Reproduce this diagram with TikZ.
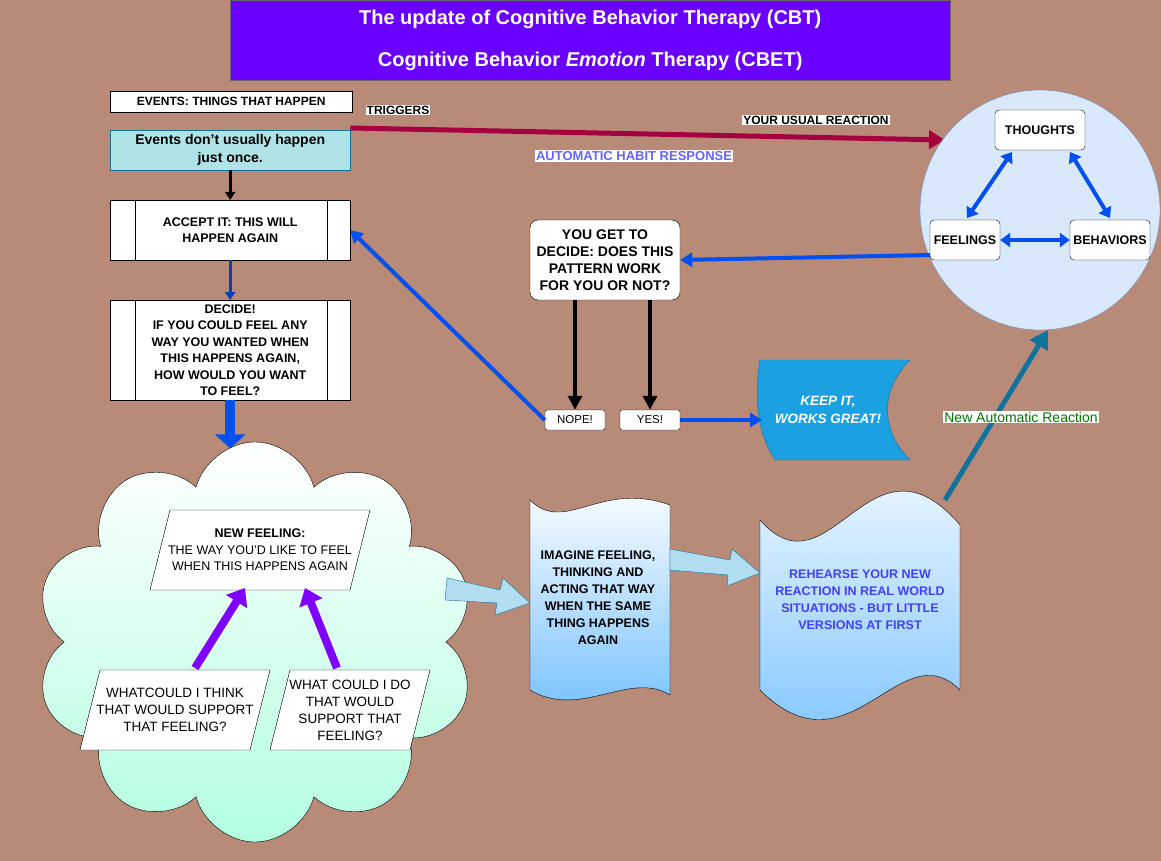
\documentclass[tikz,border=0pt]{standalone}
\usepackage{fontspec}
\setmainfont{Liberation Sans}
\usetikzlibrary{arrows.meta,shapes.geometric,shapes.symbols}
\definecolor{bgbrown}{HTML}{B88A78}
\definecolor{titleviolet}{HTML}{6A00FF}
\definecolor{trigred}{HTML}{A50040}
\definecolor{arrblue}{HTML}{0050EF}
\definecolor{circfill}{HTML}{DAE8FC}
\definecolor{circline}{HTML}{6C8EBF}
\definecolor{purp}{HTML}{7F00FF}
\definecolor{teal}{HTML}{10739E}
\definecolor{paleblue}{HTML}{B1DDF0}
\definecolor{keepblue}{HTML}{1BA1E2}
\definecolor{cyanbox}{HTML}{B0E3E6}
\tikzset{
  txt/.style={font=\fontsize{12.5}{16.5}\selectfont\bfseries, align=center},
  whitebox/.style={draw=black, fill=white, rounded corners=4pt, txt},
  procbox/.style={draw=black, fill=white, txt},
  paratxt/.style={align=center, font=\fontsize{12.5}{16.5}\selectfont},
  bluearr/.style={line width=4pt, -{Triangle[length=12pt,width=14pt]}, color=arrblue},
  dblarr/.style={line width=4pt, {Triangle[length=10pt,width=14pt]}-{Triangle[length=10pt,width=14pt]}, color=arrblue},
  blkarr/.style={line width=4pt, -{Triangle[length=14pt,width=14pt]}, black},
  wave/.style={draw=black, top color=white, bottom color=blue!45!cyan!55},
  hollow/.style={draw=teal, fill=paleblue}
}
\begin{document}
\begin{tikzpicture}[x=1pt,y=-1pt]
\fill[bgbrown] (0,0) rectangle (1161,861);
\useasboundingbox (0,0) rectangle (1161,861);
% title
\node[draw=black!60, fill=titleviolet, minimum width=720pt, minimum height=80pt, anchor=north west, text=white, align=center, font=\fontsize{20}{42}\selectfont\bfseries] (title) at (230,0)
  {The update of Cognitive Behavior Therapy (CBT)\\Cognitive Behavior \textit{Emotion} Therapy (CBET)};
% events
\node[procbox, minimum width=242pt, minimum height=21pt, anchor=north west, font=\fontsize{12}{14}\selectfont\bfseries] (events) at (110,91) {EVENTS: THINGS THAT HAPPEN};
\node[draw=teal, fill=cyanbox, minimum width=240pt, minimum height=40pt, anchor=north west, txt, font=\fontsize{14}{18}\selectfont\bfseries] (once) at (110,130) {Events don't usually happen\\just once.};
\node[procbox, minimum width=240pt, minimum height=60pt, anchor=north west] (accept) at (110,200) {ACCEPT IT: THIS WILL\\HAPPEN AGAIN};
\draw (135,200) -- (135,260) (327,200) -- (327,260);
\node[procbox, minimum width=240pt, minimum height=100pt, anchor=north west] (decide) at (110,300) {DECIDE!\\IF YOU COULD FEEL ANY\\WAY YOU WANTED WHEN\\THIS HAPPENS AGAIN,\\HOW WOULD YOU WANT\\TO FEEL?};
\draw (135,300) -- (135,400) (327,300) -- (327,400);
\draw[line width=3pt, -{Triangle[length=8pt,width=10pt]}] (once.south) -- (accept.north);
\draw[line width=3pt, -{Triangle[length=8pt,width=10pt]}, arrblue!80!black] (accept.south) -- (decide.north);
\draw[line width=10pt, -{Triangle[length=14pt,width=30pt]}, arrblue] (decide.south) -- ++(0,48);
% triggers
\coordinate (circtip) at (945,140);
\draw[line width=5pt, -{Triangle[length=16pt,width=18pt]}, trigred] (once.north east) ++(0,-2) -- (circtip);
\node[txt, fill=white, inner sep=1pt, font=\fontsize{12}{14}\selectfont\bfseries] (trig) at (398,110) {TRIGGERS};
\node[txt, fill=white, inner sep=1pt, font=\fontsize{12}{14}\selectfont\bfseries] (usual) at (816,120) {YOUR USUAL REACTION};
\node[txt, fill=white, inner sep=1pt, text=blue!60!white, font=\fontsize{13}{15}\selectfont\bfseries] (habit) at (634,156) {AUTOMATIC HABIT RESPONSE};
% circle
\node[circle, draw=circline, fill=circfill, minimum size=240pt] (circ) at (1040,210) {};
\node[whitebox, minimum width=90pt, minimum height=40pt] (thoughts) at (1040,130) {THOUGHTS};
\node[whitebox, minimum width=70pt, minimum height=40pt, inner sep=0pt] (feel) at (965,240) {FEELINGS};
\node[whitebox, minimum width=80pt, minimum height=40pt, inner sep=0pt] (behav) at (1110,240) {BEHAVIORS};
\draw[dblarr] (967,218) -- (1012,152);
\draw[dblarr] (1070,152) -- (1110,218);
\draw[dblarr] (feel) -- (behav);
% decide pattern
\node[whitebox, minimum width=150pt, minimum height=80pt, rounded corners=8pt, font=\fontsize{14}{17}\selectfont\bfseries] (pattern) at (605,260) {YOU GET TO\\DECIDE: DOES THIS\\PATTERN WORK\\FOR YOU OR NOT?};
\draw[bluearr] (930,255) -- (pattern.east);
\node[whitebox, rounded corners=2pt, minimum width=60pt, minimum height=20pt, font=\fontsize{11.5}{13}\selectfont] (nope) at (575,420) {NOPE!};
\node[whitebox, rounded corners=2pt, minimum width=60pt, minimum height=20pt, font=\fontsize{11.5}{13}\selectfont] (yes) at (650,420) {YES!};
\draw[blkarr] (575,300) -- (nope.north);
\draw[blkarr] (650,300) -- (yes.north);
\draw[bluearr] (nope.west) -- (accept.east);
% keep it
\draw[draw=teal, fill=keepblue] (760,360) -- (910,360) .. controls (880,390) and (880,430) .. (910,460) -- (775,460) .. controls (755,430) and (755,390) .. (760,360) -- cycle;
\node[txt, text=white, font=\fontsize{13.5}{18}\selectfont\bfseries\itshape] (keep) at (828,410) {KEEP IT,\\WORKS GREAT!};
\draw[bluearr] (yes.east) -- (762,420);
% cloud
\node[cloud, cloud puffs=10, cloud ignores aspect, minimum width=440pt, minimum height=400pt, draw=black, top color=white, bottom color=green!40!cyan!30!white] (cloud) at (255,642) {};
\draw[fill=white] (170,510) -- (370,510) -- (350,590) -- (150,590) -- cycle;
\node[paratxt] (newfeel) at (260,550) {\textbf{NEW FEELING:}\\THE WAY YOU'D LIKE TO FEEL\\WHEN THIS HAPPENS AGAIN};
\draw[fill=white] (100,670) -- (270,670) -- (250,750) -- (80,750) -- cycle;
\node[paratxt, font=\fontsize{13.5}{17}\selectfont] (think) at (175,710) {WHATCOULD I THINK\\THAT WOULD SUPPORT\\THAT FEELING?};
\draw[fill=white] (290,670) -- (430,670) -- (410,750) -- (270,750) -- cycle;
\node[paratxt, font=\fontsize{13.5}{17}\selectfont] (dothat) at (350,710) {WHAT COULD I DO\\THAT WOULD\\SUPPORT THAT\\FEELING?};
\draw[line width=8pt, -{Triangle[length=16pt,width=24pt]}, purp] (195,668) -- (245,588);
\draw[line width=8pt, -{Triangle[length=16pt,width=24pt]}, purp] (337,668) -- (305,588);
% imagine
\draw[wave] (530,500) .. controls (565,535) and (600,480) .. (670,505) -- (670,695) .. controls (630,670) and (580,720) .. (530,690) -- cycle;
\node[txt, font=\fontsize{12.5}{17}\selectfont\bfseries] (imagine) at (598,598) {IMAGINE FEELING,\\THINKING AND\\ACTING THAT WAY\\WHEN THE SAME\\THING HAPPENS\\AGAIN};
\draw[wave] (760,520) .. controls (830,600) and (870,420) .. (960,525) -- (960,690) .. controls (900,630) and (850,780) .. (760,690) -- cycle;
\node[txt, text=blue!75!white, font=\fontsize{12.5}{17}\selectfont\bfseries] (rehearse) at (860,600) {REHEARSE YOUR NEW\\REACTION IN REAL WORLD\\SITUATIONS - BUT LITTLE\\VERSIONS AT FIRST};
\draw[hollow] (447,578) -- (500,590) -- (503,578) -- (530,603) -- (495,615) -- (497,603) -- (445,600) -- cycle;
\draw[hollow] (670,549) -- (730,560) -- (732,549) -- (760,573) -- (727,586) -- (728,575) -- (670,570) -- cycle;
% new reaction
\draw[line width=5pt, -{Triangle[length=18pt,width=20pt]}, teal] (945,500) -- (1048,330);
\node[fill=white, inner sep=1pt, text=green!45!black, font=\fontsize{14}{16}\selectfont] (newauto) at (1021,417) {New Automatic Reaction};
\end{tikzpicture}
\end{document}
